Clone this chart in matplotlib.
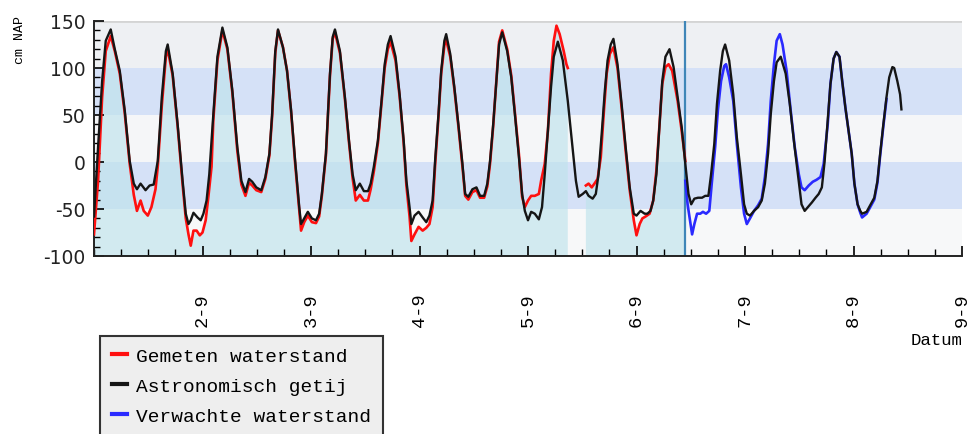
import matplotlib as mpl
mpl.use('Agg')
import matplotlib.pyplot as plt
from matplotlib.lines import Line2D
import numpy as np

plt.rcParams['axes.unicode_minus'] = False

# hours after 1-9 00:00, water level in cm NAP
astro_hours = [0.0, 0.9, 1.8, 2.6, 3.7, 4.6, 5.7, 6.8, 7.9, 8.8, 9.5, 10.3, 11.4, 12.3, 13.2,
               14.1, 15.0, 15.9, 16.3, 17.4, 18.5, 19.6, 20.3, 20.9, 21.4, 22.0, 22.9, 23.6,
               24.2, 24.9, 25.5, 26.4, 27.3, 28.4, 29.5, 30.6, 31.7, 32.6, 33.5, 34.3, 35.0,
               35.9, 37.0, 37.9, 38.8, 39.4, 40.1, 40.7, 41.8, 42.7, 43.6, 44.5, 45.4, 45.8,
               46.5, 47.3, 48.2, 49.1, 49.8, 50.4, 51.3, 52.2, 52.8, 53.3, 54.4, 55.5, 56.4,
               57.2, 57.9, 58.8, 59.7, 60.6, 61.2, 61.9, 62.8, 63.6, 64.3, 65.0, 65.6, 66.7,
               67.6, 68.5, 69.1, 69.8, 70.2, 70.9, 71.8, 72.7, 73.5, 74.2, 74.9, 75.5, 76.2,
               76.8, 77.5, 77.9, 78.8, 79.7, 80.6, 81.5, 82.1, 82.8, 83.7, 84.6, 85.4, 86.3,
               87.0, 87.6, 88.3, 89.0, 89.6, 90.3, 91.4, 92.3, 93.1, 94.0, 94.7, 95.3, 96.0,
               96.7, 97.5, 98.4, 99.1, 99.7, 100.4, 101.1, 101.7, 102.6, 103.7, 104.8, 105.7,
               106.6, 107.2, 108.1, 108.8, 109.4, 110.3, 111.0, 111.6, 112.3, 113.0, 113.6,
               114.3, 114.9, 115.8, 116.7, 117.6, 118.5, 119.4, 120.0, 120.9, 121.8, 122.4,
               123.1, 123.7, 124.4, 125.1, 125.7, 126.4, 127.3, 128.2, 129.1, 130.0, 130.8,
               131.5, 132.1, 132.8, 133.6, 134.5, 135.2, 135.9, 136.5, 137.2, 137.8, 138.5,
               139.1, 139.6, 140.5, 141.4, 142.2, 143.1, 143.8, 144.4, 145.1, 146.0, 146.9,
               147.7, 148.4, 149.1, 149.7, 150.4, 151.0, 151.9, 153.0, 153.9, 154.8, 155.7,
               156.5, 157.2, 157.9, 158.8, 159.6, 160.3, 161.0, 161.6, 162.3, 162.9, 163.6,
               164.2, 164.9, 165.5, 166.2, 166.8, 167.6, 168.2, 168.9, 169.5, 169.9, 170.9,
               171.7, 172.6, 173.3, 173.9, 174.6, 175.3, 175.9, 176.6, 177.0, 177.7, 178.3,
               178.6]
astro_cm = [-58, 16, 86, 129, 141, 120, 97, 55, 1, -23, -29, -23, -30, -25, -24,
            1, 69, 118, 125, 94, 40, -20, -55, -66, -62, -54, -59, -62,
            -55, -41, -13, 51, 112, 143, 122, 76, 16, -20, -32, -18, -21,
            -27, -30, -16, 9, 51, 118, 141, 122, 97, 55, 1, -48, -66,
            -60, -53, -60, -62, -55, -34, 9, 94, 133, 141, 118, 69, 23,
            -13, -30, -23, -31, -31, -23, -5, 23, 65, 104, 125, 134, 112,
            72, 23, -20, -48, -66, -57, -53, -59, -64, -57, -41, 5, 51,
            97, 129, 136, 115, 80, 40, -2, -34, -37, -29, -27, -36, -36,
            -23, 1, 40, 86, 125, 138, 118, 90, 51, 5, -34, -52, -62,
            -53, -55, -61, -48, -13, 33, 80, 112, 128, 108, 65, 23,
            -20, -37, -34, -31, -36, -39, -34, -13, 30, 76, 108,
            125, 131, 104, 62, 16, -27, -55, -57, -52, -55, -55,
            -52, -41, -13, 40, 86, 112, 120, 101, 69, 37, -2,
            -34, -45, -39, -38, -38, -36, -36, -13, 19, 62, 97,
            118, 125, 108, 72, 26, -13, -45, -55, -57, -52, -48,
            -41, -23, 9, 51, 86, 106, 112, 94, 62, 23, -13,
            -45, -52, -48, -43, -38, -34, -27, 0, 45, 83, 110,
            117, 112, 86, 58, 37, 9, -23, -45, -52, -55, -53,
            -46, -38, -20, 9, 40, 69, 90, 101, 100, 86, 72,
            56]

measured_hours = [0.0, 0.9, 1.8, 2.6, 3.7, 4.6, 5.7, 6.8, 7.9, 8.8, 9.5, 10.3, 11.0, 11.9,
                  12.7, 13.6, 14.1, 15.0, 15.9, 16.3, 17.4, 18.5, 19.6, 20.3, 20.9, 21.4,
                  22.0, 22.7, 23.4, 24.0, 24.7, 25.3, 26.0, 26.4, 27.3, 28.4, 29.5, 30.6,
                  31.7, 32.6, 33.5, 34.3, 35.0, 35.9, 37.0, 37.9, 38.8, 39.4, 40.1, 40.7,
                  41.8, 42.7, 43.6, 44.5, 45.4, 45.8, 46.5, 47.3, 48.2, 49.1, 49.8, 50.4,
                  51.3, 52.2, 52.8, 53.3, 54.4, 55.5, 56.4, 57.2, 57.9, 58.8, 59.7, 60.6,
                  61.2, 61.9, 62.8, 63.6, 64.3, 65.0, 65.6, 66.7, 67.6, 68.5, 69.1, 69.8,
                  70.2, 70.9, 71.8, 72.7, 73.5, 74.2, 74.9, 75.5, 76.2, 76.8, 77.5, 77.9,
                  78.8, 79.7, 80.6, 81.5, 82.1, 82.8, 83.7, 84.6, 85.4, 86.3, 87.0, 87.6,
                  88.3, 89.0, 89.6, 90.3, 91.4, 92.3, 93.1, 94.0, 94.7, 95.3, 96.0, 96.7,
                  97.5, 98.4, 98.9, 99.7, 100.4, 101.1, 101.7, 102.3, 103.0, 103.9, 104.5,
                  104.8, 106.8, 108.8, 109.4, 110.1, 110.7, 111.4, 112.1, 112.8, 113.4,
                  114.1, 114.9, 115.8, 116.7, 117.6, 118.5, 119.4, 120.0, 120.7, 121.3,
                  122.0, 122.9, 123.7, 124.4, 125.1, 125.7, 126.4, 127.1, 127.9, 129.1,
                  130.0, 130.8]
measured_cm = [-77, -20, 69, 118, 134, 118, 94, 52, -2, -35, -52, -41, -52, -57,
               -48, -29, -5, 60, 112, 120, 92, 38, -24, -60, -77, -89,
               -73, -73, -78, -75, -62, -37, -5, 45, 108, 140, 120, 74,
               12, -24, -36, -22, -25, -30, -32, -18, 7, 48, 116, 140,
               122, 97, 53, -2, -52, -73, -64, -57, -64, -65, -58, -36,
               7, 92, 131, 138, 116, 67, 21, -17, -41, -35, -41, -41,
               -29, -10, 20, 62, 100, 120, 128, 108, 70, 20, -25, -58,
               -84, -77, -69, -73, -70, -66, -48, 0, 48, 94, 124, 130,
               112, 78, 38, -5, -36, -40, -32, -30, -38, -38, -26, -2,
               38, 86, 128, 140, 120, 92, 53, 8, -37, -48, -41, -36,
               -36, -34, -20, -2, 33, 94, 129, 145, 136, 118, 104,
               100, np.nan, -25, -23, -27, -23, -18, 5, 55, 94,
               115, 122, 100, 58, 12, -30, -62, -78, -66, -60,
               -58, -55, -41, -9, 40, 83, 101, 104, 97, 65,
               33, 1]

forecast_hours = [130.8, 131.3, 132.3, 132.8, 133.4, 134.1, 134.7, 135.4, 136.1, 136.7, 137.4,
                  138.0, 138.7, 139.4, 139.8, 140.5, 141.4, 142.2, 143.1, 143.8, 144.4,
                  145.1, 146.0, 146.9, 147.7, 148.4, 149.1, 149.7, 150.4, 151.0, 151.7,
                  152.3, 153.2, 154.1, 155.0, 155.9, 156.5, 157.2, 158.1, 159.0, 159.8,
                  160.7, 161.4, 162.3, 162.9, 163.6, 164.2, 164.9, 165.5, 166.2, 166.8,
                  167.6, 168.2, 168.9, 169.5, 169.9, 170.9, 171.7, 172.6, 173.3, 173.9,
                  174.6, 175.3]
forecast_cm = [-20, -45, -77, -66, -55, -55, -53, -55, -52, -20, 16,
               55, 86, 102, 104, 90, 65, 19, -27, -55, -66,
               -60, -52, -46, -39, -16, 19, 65, 104, 129, 136,
               125, 97, 55, 16, -13, -27, -30, -25, -21, -19,
               -16, -2, 40, 83, 110, 117, 112, 86, 58, 37,
               9, -23, -45, -54, -59, -55, -48, -40, -22, 7,
               38, 67]

now_hour = 130.8
day_labels = ['2-9', '3-9', '4-9', '5-9', '6-9', '7-9', '8-9', '9-9']
series_names = ['Gemeten waterstand', 'Astronomisch getij', 'Verwachte waterstand']

band_edges = [-100, -50, 0, 50, 100, 150]
band_colors = ['#f7f8f9', '#d5e1f7', '#f5f6f8', '#d5e1f7', '#eef0f3']

mono = 'Liberation Mono'

fig = plt.figure(figsize=(9.73, 4.35), dpi=100)
ax = fig.add_axes([94 / 973, 1 - 257 / 435, 868 / 973, 235 / 435])

for lo, hi, c in zip(band_edges[:-1], band_edges[1:], band_colors):
    ax.axhspan(lo, hi, color=c, lw=0, zorder=0)
ax.axhline(150, color='#d4d4d4', lw=2, zorder=1)

m_h = np.array(measured_hours)
m_v = np.array(measured_cm, dtype=float)
ax.fill_between(m_h, m_v, -100, where=~np.isnan(m_v), color='#bfe3ec', alpha=0.65,
                lw=0, zorder=1)

ax.axvline(now_hour, color='#3f86b8', lw=1.6, zorder=2)

ax.plot(m_h, m_v, color='#ff1010', lw=1.9, zorder=3)
ax.plot(forecast_hours, forecast_cm, color='#2a2aff', lw=1.9, zorder=4)
ax.plot(astro_hours, astro_cm, color='#151515', lw=1.7, zorder=5)

ax.set_xlim(0, 192)
ax.set_ylim(-100, 150)

ax.set_xticks(np.arange(24, 193, 24))
ax.set_xticklabels(day_labels, rotation=90, family=mono, fontsize=13.5)
ax.set_xticks(np.arange(0, 193, 6), minor=True)
ax.set_yticks(np.arange(-100, 151, 50))
ax.set_yticks(np.arange(-100, 151, 10), minor=True)
ax.tick_params(axis='x', which='major', direction='in', length=7, width=1.2, pad=26)
ax.tick_params(axis='x', which='minor', direction='in', length=5, width=1.0)
ax.tick_params(axis='y', which='major', direction='in', length=7, width=1.2, pad=6,
               labelsize=13.5, labelcolor='#222222')
ax.tick_params(axis='y', which='minor', direction='in', length=4, width=1.0)

for side in ['top', 'right']:
    ax.spines[side].set_visible(False)
for side in ['left', 'bottom']:
    ax.spines[side].set_linewidth(1.4)
    ax.spines[side].set_color('#222222')

fig.text(20 / 973, 1 - 40 / 435, 'cm NAP', rotation=90, ha='center', va='center',
         family=mono, fontsize=9.5)
fig.text(937 / 973, 1 - 341 / 435, 'Datum', ha='center', va='center',
         family=mono, fontsize=12.5)

handles = [Line2D([], [], color=c, lw=3) for c in ['#ff1010', '#151515', '#2a2aff']]
leg = fig.legend(handles, series_names, loc='upper left',
                 bbox_to_anchor=(100 / 973, 1 - 337 / 435),
                 prop={'family': mono, 'size': 14}, frameon=True, fancybox=False,
                 framealpha=1, facecolor='#eeeeee', edgecolor='#333333',
                 handlelength=0.8, handletextpad=0.45, labelspacing=0.62,
                 borderpad=0.6, borderaxespad=0)
leg.get_frame().set_linewidth(1.5)

fig.savefig('out.png', dpi=100)
